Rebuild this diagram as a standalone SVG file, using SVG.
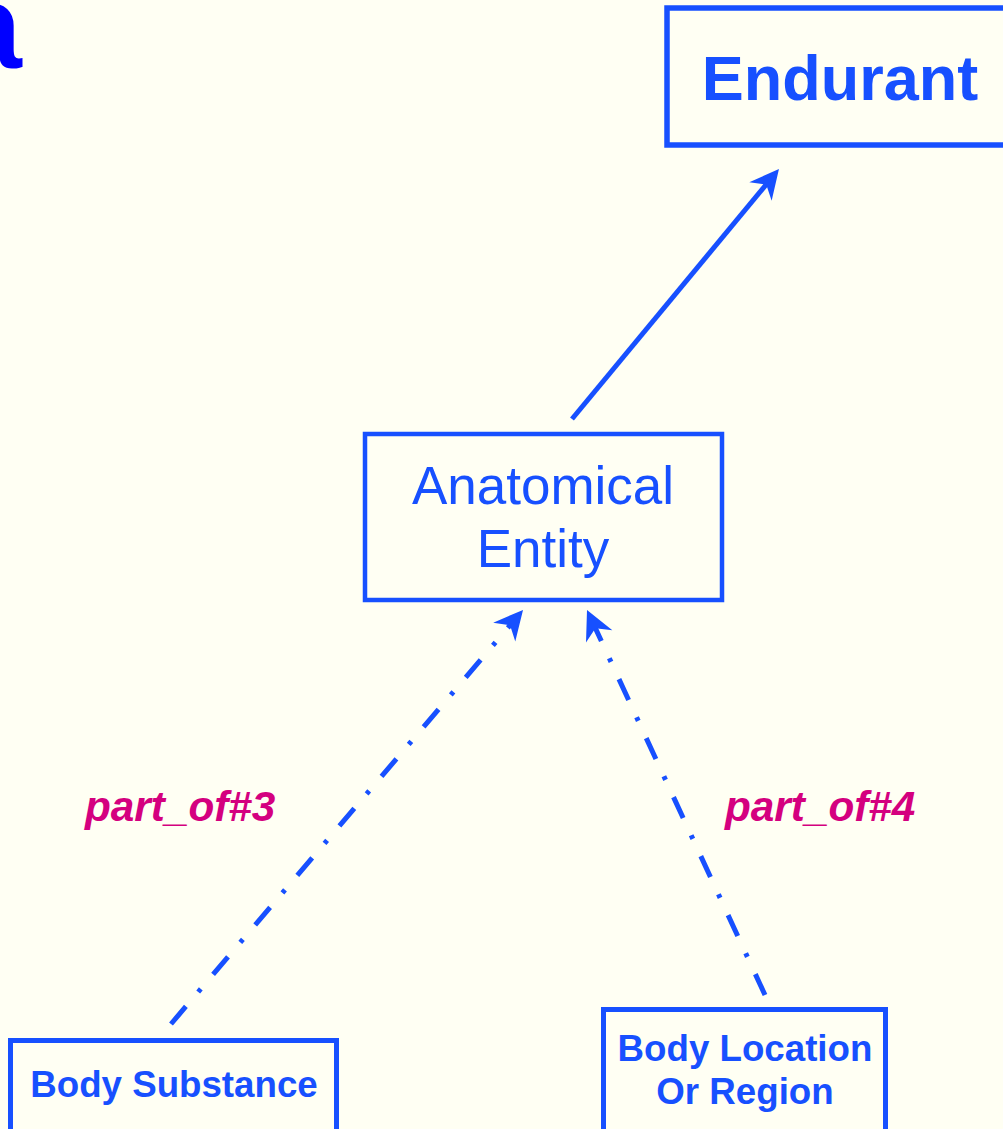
<svg xmlns="http://www.w3.org/2000/svg" width="1003" height="1129" viewBox="0 0 1003 1129">
<style>
.box{fill:none;stroke:#1750ff}
.t{font-family:"Liberation Sans",Arial,sans-serif;fill:#1750ff;text-anchor:middle}
.b{font-weight:bold}
.lbl{font-family:"Liberation Sans",Arial,sans-serif;font-weight:bold;font-style:italic;fill:#d4007f;font-size:42.3px}
.conn{fill:none;stroke:#1750ff;stroke-width:5}
.dd{stroke-dasharray:23 19 4 19}
</style>
<defs>
<marker id="ah" markerUnits="userSpaceOnUse" orient="auto" markerWidth="60" markerHeight="60" refX="0" refY="0" viewBox="-30 -30 60 60" overflow="visible">
<path d="M15,0 L-14,-14.5 L-5,0 L-14,14.5 Z" fill="#1750ff"/>
</marker>
</defs>
<rect width="1003" height="1129" fill="#fffff3"/>
<text x="-45" y="68" font-family="Liberation Sans,Arial,sans-serif" font-weight="bold" font-size="120" fill="#0000ff">a</text>
<g id="connectors">
<path class="conn" d="M572,419 L769.4,180.6" marker-end="url(#ah)"/>
<path class="conn dd" d="M171,1024 L513.3,621.4" marker-end="url(#ah)"/>
<path class="conn dd" d="M765,995 L593.3,623.6" marker-end="url(#ah)"/>
</g>
<g id="endurant">
<rect class="box" x="667" y="8" width="345" height="137" stroke-width="5.5"/>
<text class="t b" x="840" y="100" font-size="63">Endurant</text>
</g>
<g id="anatomical-entity">
<rect class="box" x="365" y="434" width="357" height="166" stroke-width="4.5"/>
<text class="t" x="543" y="504" font-size="53">Anatomical</text>
<text class="t" x="543" y="567" font-size="53">Entity</text>
</g>
<g id="body-substance">
<rect class="box" x="10.5" y="1040.5" width="326" height="100" stroke-width="5"/>
<text class="t b" x="174" y="1097" font-size="36.7">Body Substance</text>
</g>
<g id="body-location">
<rect class="box" x="603.5" y="1009.5" width="282" height="130" stroke-width="5"/>
<text class="t b" x="745" y="1061" font-size="36.7">Body Location</text>
<text class="t b" x="745" y="1104" font-size="36.7">Or Region</text>
</g>
<g id="labels">
<text class="lbl" x="85" y="821">part_of#3</text>
<text class="lbl" x="725" y="821">part_of#4</text>
</g>
</svg>
